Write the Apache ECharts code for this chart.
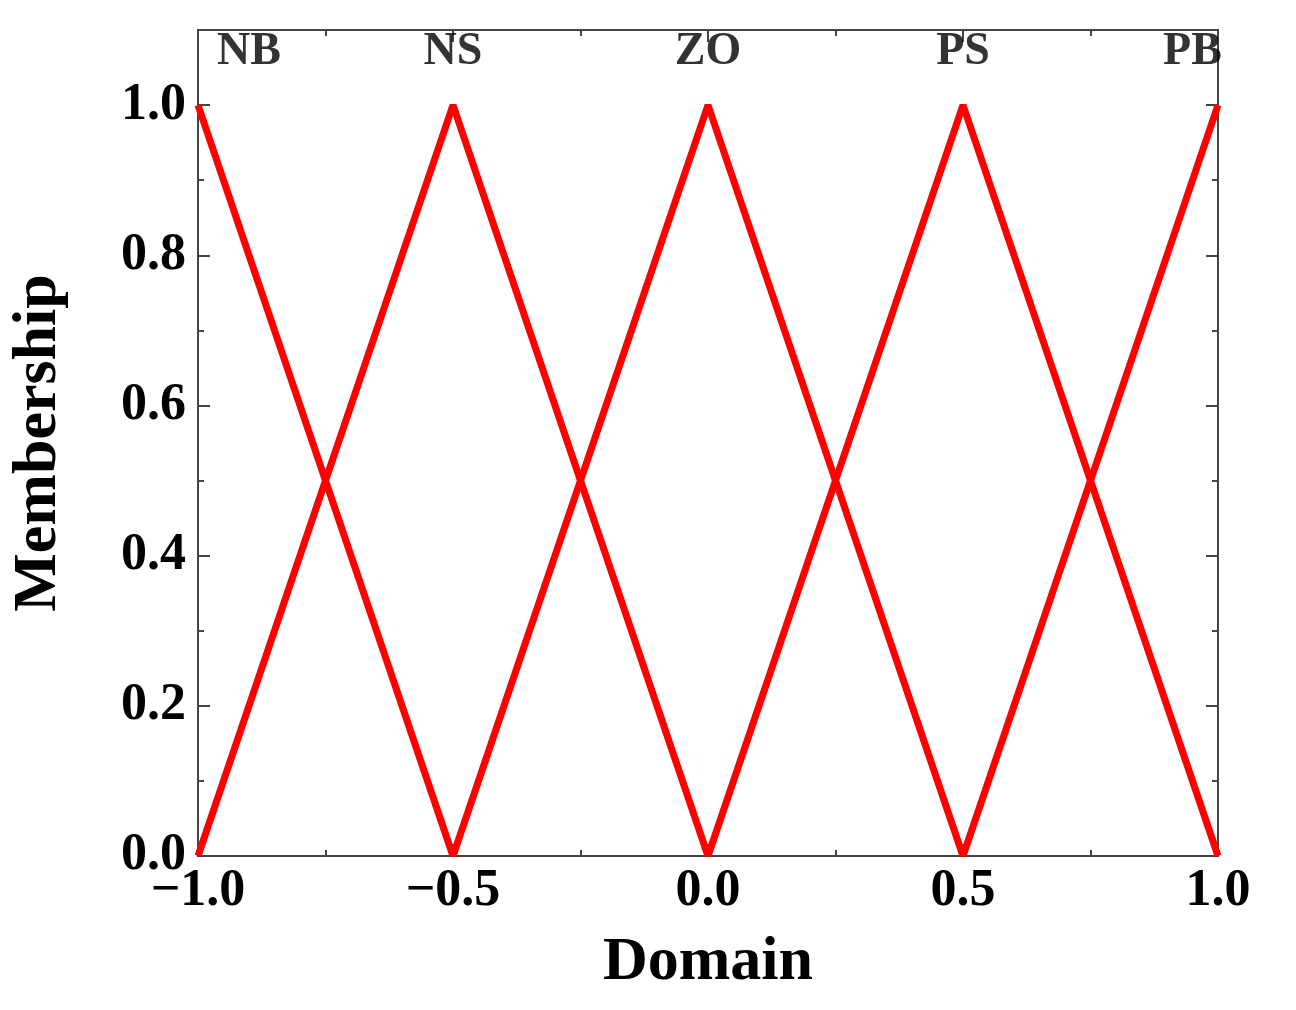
<!DOCTYPE html>
<html>
<head>
<meta charset="utf-8">
<script src="https://cdn.jsdelivr.net/npm/echarts@6/dist/echarts.min.js"></script>
<style>
	html, body { margin: 0; padding: 0; background: #fff; }
	#chart { width: 1296px; height: 1010px; }
</style>
</head>
<body>
<div id="chart"></div>
<script>
// membership functions (triangles), x and y points
let nbX = [-1, -0.5];
let nbY = [1, 0];
let nsX = [-1, -0.5, 0];
let nsY = [0, 1, 0];
let zoX = [-0.5, 0, 0.5];
let zoY = [0, 1, 0];
let psX = [0, 0.5, 1];
let psY = [0, 1, 0];
let pbX = [0.5, 1];
let pbY = [0, 1];
let setNames = ["NB", "NS", "ZO", "PS", "PB"];
let labelX = [-0.9, -0.5, 0, 0.5, 0.95];
let labelY = [1.07, 1.07, 1.07, 1.07, 1.07];

function pairs(xs, ys) {
	return xs.map((x, i) => [x, ys[i]]);
}

let font = "'Liberation Serif', 'Times New Roman', serif";
let chart = echarts.init(document.getElementById("chart"));

let lineSeries = [[nbX, nbY], [nsX, nsY], [zoX, zoY], [psX, psY], [pbX, pbY]].map(function (s) {
	return {
		type: "line",
		data: pairs(s[0], s[1]),
		symbol: "none",
		lineStyle: { color: "#ff0000", width: 7 },
		xAxisIndex: 0,
		yAxisIndex: 0,
	};
});

let axisCommon = {
	axisLine: { show: true, onZero: false, lineStyle: { color: "#444", width: 2 } },
	axisTick: { show: true, inside: true, length: 12, lineStyle: { color: "#444", width: 2 } },
	minorTick: { show: true, splitNumber: 2, length: 6, lineStyle: { color: "#444", width: 2 } },
	splitLine: { show: false },
};

chart.setOption({
	animation: false,
	grid: { left: 197, right: 78, top: 30, bottom: 154 },
	xAxis: [
		Object.assign({
			type: "value", min: -1, max: 1, interval: 0.5,
			name: "Domain", nameLocation: "middle", nameGap: 76,
			nameTextStyle: { fontFamily: font, fontWeight: "bold", fontSize: 62, color: "#000" },
			axisLabel: {
				fontFamily: font, fontWeight: "bold", fontSize: 52, color: "#000", margin: 10,
				formatter: v => (v < 0 ? "\u2212" + Math.abs(v).toFixed(1) : v.toFixed(1)),
			},
		}, axisCommon),
		Object.assign({
			type: "value", min: -1, max: 1, interval: 0.5, position: "top",
			axisLabel: { show: false },
		}, axisCommon),
	],
	yAxis: [
		Object.assign({
			type: "value", min: 0, max: 1.1, interval: 0.2,
			name: "Membership", nameLocation: "middle", nameGap: 128,
			nameTextStyle: { fontFamily: font, fontWeight: "bold", fontSize: 62, color: "#000" },
			axisLabel: {
				fontFamily: font, fontWeight: "bold", fontSize: 52, color: "#000", margin: 12,
				showMaxLabel: false,
				formatter: v => (v > 1.05 ? "" : v.toFixed(1)),
			},
		}, axisCommon),
		Object.assign({
			type: "value", min: 0, max: 1.1, interval: 0.2, position: "right",
			axisLabel: { show: false },
		}, axisCommon),
	],
	series: lineSeries.concat([{
		type: "scatter",
		symbolSize: 0,
		data: labelX.map((x, i) => ({ value: [x, labelY[i]], name: setNames[i] })),
		label: {
			show: true, position: "inside", formatter: "{b}",
			fontFamily: font, fontWeight: "bold", fontSize: 46, color: "#000",
			textBorderWidth: 0,
		},
	}]),
});
</script>
</body>
</html>
